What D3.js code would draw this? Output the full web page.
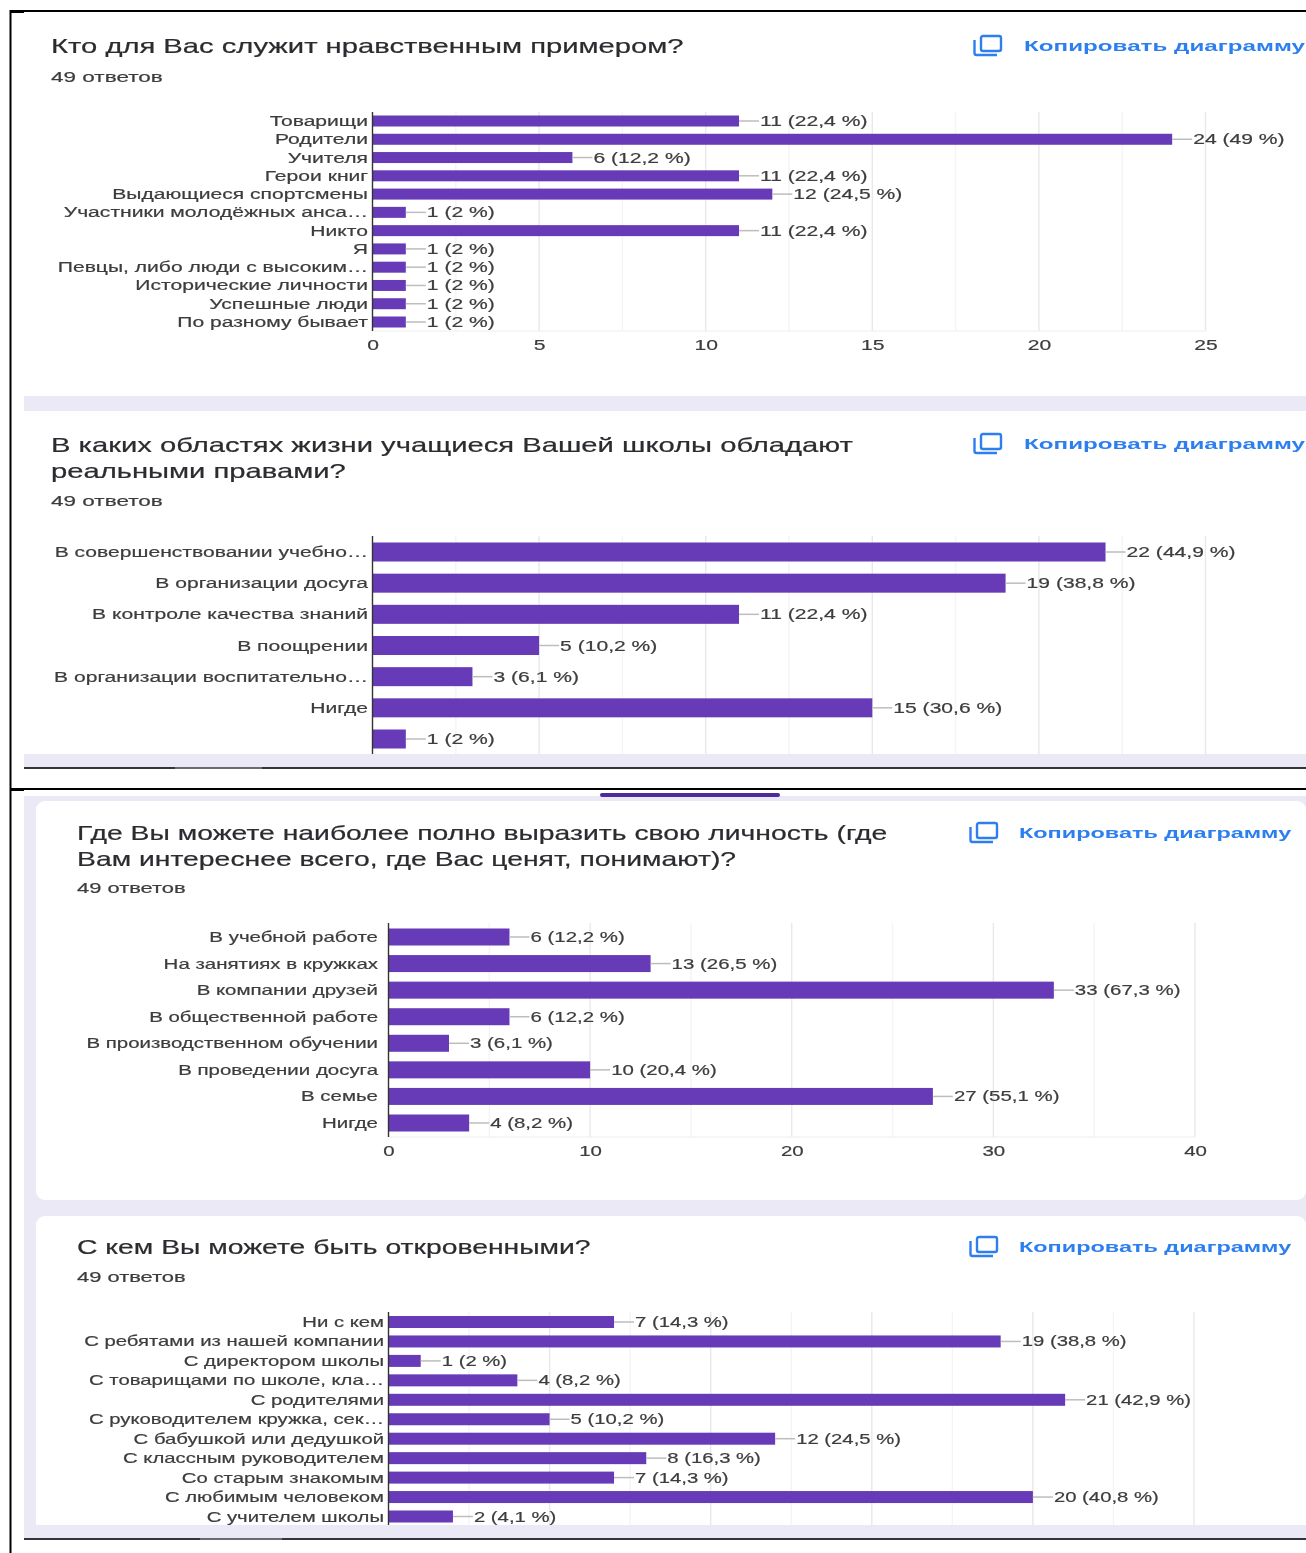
<!DOCTYPE html>
<html><head><meta charset="utf-8">
<script src="https://cdn.jsdelivr.net/npm/d3@7"></script>
<style>html,body{margin:0;padding:0;background:#fff}svg{display:block;filter:blur(0.35px)}</style>
</head><body><svg id="c" width="1306" height="1553"></svg>
<script>
const categories1=["Товарищи","Родители","Учителя","Герои книг","Выдающиеся спортсмены","Участники молодёжных анса…","Никто","Я","Певцы, либо люди с высоким…","Исторические личности","Успешные люди","По разному бывает"];
const values1=[11,24,6,11,12,1,11,1,1,1,1,1];
const categories2=["В совершенствовании учебно…","В организации досуга","В контроле качества знаний","В поощрении","В организации воспитательно…","Нигде",""];
const values2=[22,19,11,5,3,15,1];
const categories3=["В учебной работе","На занятиях в кружках","В компании друзей","В общественной работе","В производственном обучении","В проведении досуга","В семье","Нигде"];
const values3=[6,13,33,6,3,10,27,4];
const categories4=["Ни с кем","С ребятами из нашей компании","С директором школы","С товарищами по школе, кла…","С родителями","С руководителем кружка, сек…","С бабушкой или дедушкой","С классным руководителем","Со старым знакомым","С любимым человеком","С учителем школы"];
const values4=[7,19,1,4,21,5,12,8,7,20,2];
const respondents=49;
const titles1=["Кто для Вас служит нравственным примером?"];
const titles2=["В каких областях жизни учащиеся Вашей школы обладают","реальными правами?"];
const titles3=["Где Вы можете наиболее полно выразить свою личность (где","Вам интереснее всего, где Вас ценят, понимают)?"];
const titles4=["С кем Вы можете быть откровенными?"];
const answersText="49 ответов", copyText="Копировать диаграмму";

const svg=d3.select("#c");
const FONT="'Liberation Sans',Arial,sans-serif";
const DARK="#3d3d3f", PURPLE="#673ab7", LAV="#ece9f7", BLUE="#2d7ff0";
const pctLabel=v=>{const p=Math.round(v/respondents*1000)/10;return `${v} (${String(p).replace(".",",")} %)`;};

function txt(g,x,y,s,o={}){
  const f=o.fill||DARK;
  return g.append("text").attr("transform",`translate(${x},${y}) scale(${o.sx||1},1)`)
   .attr("text-anchor",o.anchor||"start").attr("font-family",o.family||FONT)
   .attr("font-size",o.size||15).attr("font-weight",o.weight||400)
   .attr("fill",f).attr("stroke",f).attr("stroke-width",o.sw===undefined?0.2:o.sw).text(s);
}
function rect(x,y,w,h,f,r){return svg.append("rect").attr("x",x).attr("y",y).attr("width",w).attr("height",h).attr("fill",f).attr("rx",r||0);}

function header(cfg){
  const g=svg.append("g");
  cfg.titles.forEach((t,i)=>txt(g,cfg.tx,cfg.ty+i*26,t,{size:cfg.titleSize,sx:cfg.titleSx,fill:"#2b2b30"}));
  txt(g,cfg.tx,cfg.ansY,answersText,{size:14,sx:cfg.sx});
  const ic=g.append("g").attr("transform",`translate(${cfg.ix},${cfg.iy})`).attr("fill","none").attr("stroke",BLUE).attr("stroke-width",2.4);
  ic.append("rect").attr("x",8).attr("y",1).attr("width",20).attr("height",15).attr("rx",2);
  ic.append("path").attr("d","M1.5 5V18q0 2 2 2H24");
  txt(g,cfg.ix+cfg.lx,cfg.iy+15.5,copyText,{size:14.5,sx:cfg.linkSx,fill:BLUE,weight:700,sw:0});
}

function chart(cfg){
  const g=svg.append("g");
  const x=d3.scaleLinear().domain([0,cfg.max]).range([cfg.x0,cfg.x1]);
  const y=d3.scalePoint().domain(d3.range(cfg.cats.length)).range([cfg.rowA,cfg.rowB]);
  const grid=d3.range(cfg.minor,cfg.max+.001,cfg.minor);
  g.selectAll("line.g").data(grid).join("line").attr("x1",d=>x(d)).attr("x2",d=>x(d))
    .attr("y1",cfg.top).attr("y2",cfg.bottom)
    .attr("stroke",d=>d%(cfg.minor*2)===0?"#e8e8e8":"#f4f4f4").attr("stroke-width",1.4);
  if(cfg.tickY) g.append("line").attr("x1",x(0)).attr("x2",x(cfg.max)).attr("y1",cfg.bottom).attr("y2",cfg.bottom).attr("stroke","#eeeeee").attr("stroke-width",1);
  g.selectAll("rect.b").data(cfg.vals).join("rect")
    .attr("x",x(0)).attr("y",(d,i)=>y(i)-cfg.barH/2).attr("width",d=>x(d)-x(0)).attr("height",cfg.barH)
    .attr("fill",PURPLE);
  g.selectAll("line.l").data(cfg.vals).join("line")
    .attr("x1",d=>x(d)).attr("x2",d=>x(d)+20).attr("y1",(d,i)=>y(i)).attr("y2",(d,i)=>y(i))
    .attr("stroke","#bdbdbd").attr("stroke-width",1.5);
  cfg.vals.forEach((v,i)=>{
    txt(g,x(v)+21,y(i)+5,pctLabel(v),{size:cfg.fs,sx:cfg.sx});
    if(cfg.cats[i]) txt(g,cfg.labelX,y(i)+5,cfg.cats[i],{size:cfg.fs,sx:cfg.sx,anchor:"end"});
  });
  g.append("line").attr("x1",x(0)).attr("x2",x(0)).attr("y1",cfg.top).attr("y2",cfg.bottom).attr("stroke","#333").attr("stroke-width",1.4);
  if(cfg.tickY){
    const ax=g.append("g").attr("transform",`translate(0,${cfg.tickY})`)
      .call(d3.axisBottom(x).tickValues(d3.range(0,cfg.max+.001,cfg.minor*2)).tickSize(0).tickPadding(0));
    ax.select(".domain").remove();
    ax.selectAll("text").attr("font-family",FONT).attr("font-size",cfg.fs).attr("fill",DARK)
      .attr("stroke",DARK).attr("stroke-width",0.2)
      .attr("transform",`scale(${cfg.sx},1)`).attr("dy",0).attr("y",0).attr("text-anchor","middle");
  }
}

// ---- backgrounds of lower screenshot
rect(24,796,1282,742,LAV);
rect(36,801,1270,399,"#fff",9);
rect(36,1216,1270,320,"#fff",9);
rect(600,793,180,4,"#4b2a9a",2);

const xA={x0:372.5,x1:1205.5};
const hTop={titleSize:20,titleSx:1.46,sx:1.61,lx:51,linkSx:1.67};
const hLow={titleSize:20,titleSx:1.417,sx:1.566,lx:50,linkSx:1.617};
header({titles:titles1,tx:51,ty:53,ansY:82,ix:973,iy:35,...hTop});
chart({cats:categories1,vals:values1,...xA,max:25,minor:2.5,rowA:121,rowB:322,top:112,bottom:331,barH:11,fs:14.5,sx:1.455,labelX:368,tickY:350});
rect(24,396,1282,15,LAV);

header({titles:titles2,tx:51,ty:452,ansY:506,ix:973,iy:433,...hTop});
chart({cats:categories2,vals:values2,...xA,max:25,minor:2.5,rowA:552,rowB:739,top:536,bottom:754,barH:19,fs:14.5,sx:1.455,labelX:368});
rect(24,754,1282,13,LAV);
rect(24,767,1282,2,"#333338");
rect(175,767,87,2,"#6b6b6f");

header({titles:titles3,tx:77,ty:840,ansY:893,ix:969,iy:822,...hLow});
chart({cats:categories3,vals:values3,x0:388.5,x1:1195,max:40,minor:5,rowA:937,rowB:1123,top:923,bottom:1137,barH:17,fs:14.5,sx:1.41,labelX:378,tickY:1156});

header({titles:titles4,tx:77,ty:1254,ansY:1282,ix:969,iy:1236,...hLow});
chart({cats:categories4,vals:values4,x0:388.5,x1:1194,max:25,minor:2.5,rowA:1322,rowB:1516.5,top:1312,bottom:1525,barH:12,fs:14.5,sx:1.4,labelX:384});
rect(24,1525,1282,13,LAV);
rect(24,1538,1282,2,"#333338");
rect(200,1538,82,2,"#6b6b6f");

// ---- outer black frame lines
rect(9.5,10,2,1543,"#000");
rect(10,10,1296,2,"#000");
rect(10,10,14,3,"#000");
rect(10,788,1296,2,"#000");
rect(10,788,14,3,"#000");
</script></body></html>
